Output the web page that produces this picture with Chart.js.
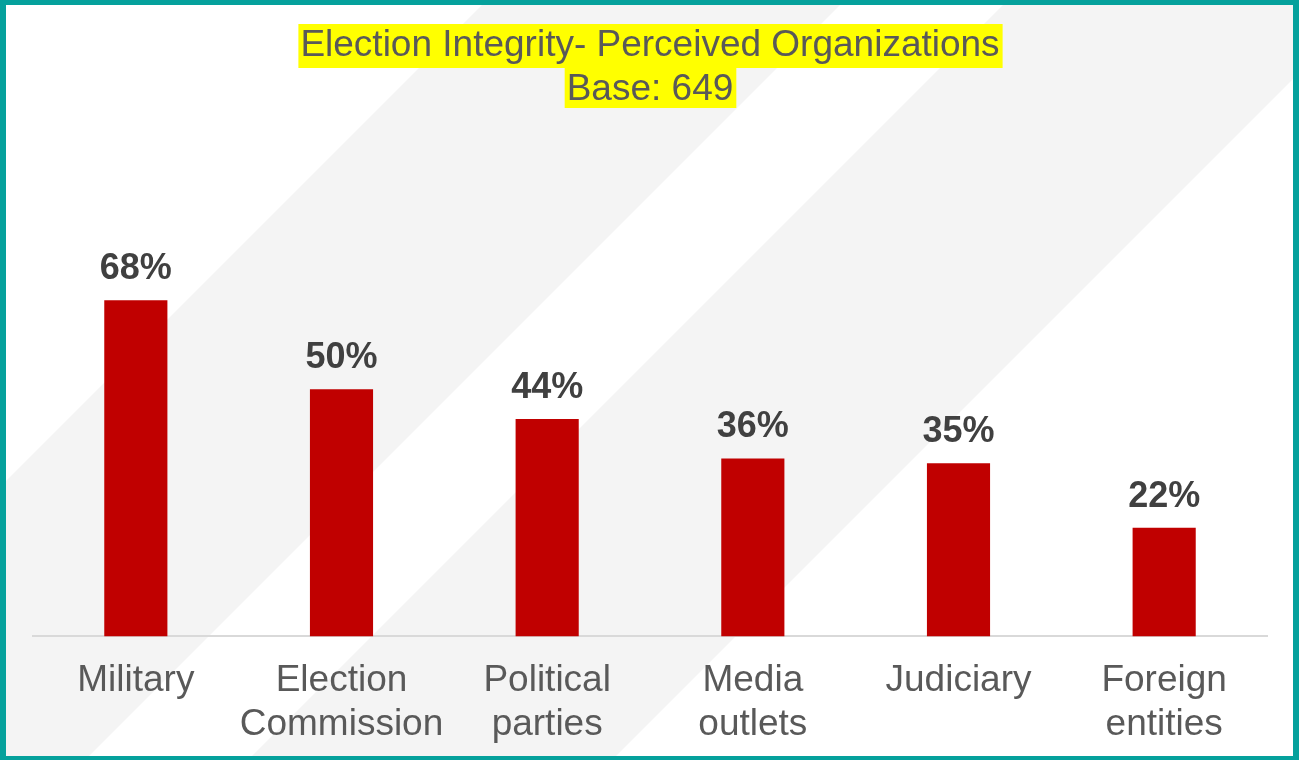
<!DOCTYPE html>
<html>
<head>
<meta charset="utf-8">
<title>Election Integrity- Perceived Organizations</title>
<script src="https://cdn.jsdelivr.net/npm/chart.js@4/dist/chart.umd.min.js"></script>
<style>
  html, body { margin: 0; padding: 0; background: #fff; overflow: hidden; }
  #wrap { position: relative; width: 1299px; height: 760px; }
</style>
</head>
<body>
<div id="wrap"><canvas id="grafico"></canvas></div>
<script>
// Datos del grafico
const categorias = [["Military"], ["Election", "Commission"], ["Political", "parties"], ["Media", "outlets"], ["Judiciary"], ["Foreign", "entities"]];
const valores = [68, 50, 44, 36, 35, 22];
const tituloLineas = ["Election Integrity- Perceived Organizations", "Base: 649"];

const FUENTE = '"Liberation Sans", Arial, sans-serif';
const TITULO_SIZE = 37;
const TITULO_LH = 44;
const TITULO_PAD_TOP = 24;

// Fondo tipo diapositiva: franjas diagonales, resaltado amarillo del titulo y borde
const fondoSlide = {
  id: 'fondoSlide',
  beforeDraw(chart) {
    const { ctx, width, height } = chart;
    ctx.save();
    ctx.fillStyle = '#ffffff';
    ctx.fillRect(0, 0, width, height);
    ctx.fillStyle = '#f4f4f4';
    [[487, 845], [1008, 1372]].forEach(([a, b]) => {
      ctx.beginPath();
      ctx.moveTo(a, 0);
      ctx.lineTo(b, 0);
      ctx.lineTo(b - height, height);
      ctx.lineTo(a - height, height);
      ctx.closePath();
      ctx.fill();
    });

    // resaltado del titulo
    const t = chart.titleBlock;
    const cx = (t.left + t.right) / 2;
    ctx.font = TITULO_SIZE + 'px ' + FUENTE;
    ctx.fillStyle = '#ffff00';
    tituloLineas.forEach((linea, i) => {
      const mid = t.top + TITULO_PAD_TOP + TITULO_LH / 2 + i * TITULO_LH;
      const w = ctx.measureText(linea).width;
      const top = mid - 22;
      const bottom = i === tituloLineas.length - 1 ? mid + 18 : mid + 22;
      ctx.fillRect(cx - w / 2 - 2, top, w + 5, bottom - top);
    });
    ctx.restore();
  },
  afterDraw(chart) {
    const { ctx, width, height } = chart;
    ctx.save();
    ctx.fillStyle = '#05a19c';
    ctx.fillRect(0, 0, width, 5);
    ctx.fillRect(0, 0, 6, height);
    ctx.fillRect(width - 6, 0, 6, height);
    ctx.fillRect(0, height - 4, width, 4);
    ctx.restore();
  }
};

// Etiquetas de porcentaje arriba de cada barra
const etiquetasBarras = {
  id: 'etiquetasBarras',
  afterDatasetsDraw(chart) {
    const ctx = chart.ctx;
    const meta = chart.getDatasetMeta(0);
    ctx.save();
    ctx.font = 'bold 36px ' + FUENTE;
    ctx.fillStyle = '#404040';
    ctx.textAlign = 'center';
    ctx.textBaseline = 'alphabetic';
    meta.data.forEach((bar, i) => {
      ctx.fillText(valores[i] + '%', bar.x, bar.y - 21);
    });
    ctx.restore();
  }
};

new Chart(document.getElementById('grafico'), {
  type: 'bar',
  data: {
    labels: categorias,
    datasets: [{
      data: valores,
      backgroundColor: '#c00000',
      barPercentage: 0.307,
      categoryPercentage: 1
    }]
  },
  options: {
    responsive: true,
    maintainAspectRatio: false,
    animation: false,
    layout: { padding: { left: 33, right: 32, top: 0, bottom: -9 } },
    plugins: {
      legend: { display: false },
      tooltip: { enabled: false },
      title: {
        display: true,
        text: tituloLineas,
        color: '#595959',
        font: { family: FUENTE, size: TITULO_SIZE, weight: 'normal', lineHeight: TITULO_LH / TITULO_SIZE },
        padding: { top: TITULO_PAD_TOP, bottom: 30 }
      }
    },
    scales: {
      x: {
        grid: { display: false, drawTicks: false },
        border: { display: true, color: '#d9d9d9', width: 2 },
        ticks: {
          color: '#595959',
          padding: 23,
          maxRotation: 0,
          autoSkip: false,
          font: { family: FUENTE, size: 37, lineHeight: 1.17 }
        }
      },
      y: {
        display: false,
        min: 0,
        max: 100
      }
    }
  },
  plugins: [fondoSlide, etiquetasBarras]
});
</script>
</body>
</html>
